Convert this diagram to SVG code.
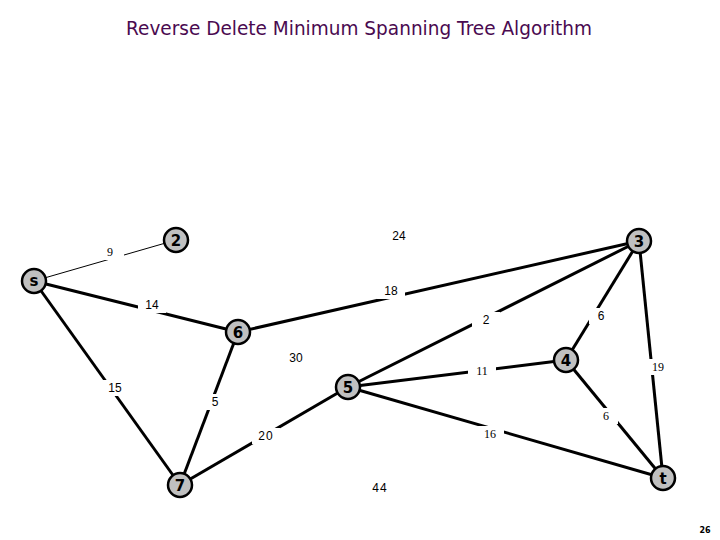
<svg xmlns="http://www.w3.org/2000/svg" width="720" height="540" viewBox="0 0 720 540">
<style>
.e{stroke:#000;stroke-width:3;stroke-linecap:butt}
.thin{stroke:#000;stroke-width:1}
.gap{fill:#fff}
.lbl{font-family:"Liberation Sans",Arial,sans-serif;font-size:12px;fill:#000;text-anchor:middle}
.ser{font-family:"Liberation Serif","Times New Roman",serif;font-size:12px;fill:#000;text-anchor:middle}
.n circle{fill:#c0c0c0;stroke:#000;stroke-width:2.5}
.n text{font-family:"DejaVu Sans",Verdana,sans-serif;font-weight:bold;font-size:15px;fill:#000;text-anchor:middle}
</style>
<rect width="720" height="540" fill="#fff"/>
<text x="359" y="35" font-family="'DejaVu Sans',Verdana,sans-serif" font-size="19" fill="#4a0a50" text-anchor="middle" textLength="466" lengthAdjust="spacingAndGlyphs">Reverse Delete Minimum Spanning Tree Algorithm</text>
<g id="connectors">
<line class="thin" x1="34" y1="281" x2="176" y2="240"/>
<line class="e" x1="34" y1="281" x2="238" y2="332"/>
<line class="e" x1="34" y1="281" x2="180" y2="485"/>
<line class="e" x1="238" y1="332" x2="639" y2="241"/>
<line class="e" x1="238" y1="332" x2="180" y2="485"/>
<line class="e" x1="348" y1="387" x2="639" y2="241"/>
<line class="e" x1="566" y1="360" x2="639" y2="241"/>
<line class="e" x1="348" y1="387" x2="566" y2="360"/>
<line class="e" x1="639" y1="241" x2="663" y2="478"/>
<line class="e" x1="566" y1="360" x2="663" y2="478"/>
<line class="e" x1="348" y1="387" x2="663" y2="478"/>
<line class="e" x1="348" y1="387" x2="180" y2="485"/>
<rect class="gap" x="96" y="244" width="28" height="16"/>
<rect class="gap" x="138" y="297" width="28" height="16"/>
<rect class="gap" x="377" y="283" width="28" height="16"/>
<rect class="gap" x="101" y="380" width="28" height="16"/>
<rect class="gap" x="202" y="394" width="26" height="16"/>
<rect class="gap" x="472" y="312" width="28" height="16"/>
<rect class="gap" x="589" y="308" width="24" height="16"/>
<rect class="gap" x="468" y="363" width="28" height="16"/>
<rect class="gap" x="645" y="359" width="26" height="16"/>
<rect class="gap" x="594" y="408" width="24" height="16"/>
<rect class="gap" x="476" y="426" width="28" height="16"/>
<rect class="gap" x="252" y="428" width="28" height="16"/>
<text class="ser" x="110" y="256">9</text>
<text class="lbl" x="152" y="309">14</text>
<text class="lbl" x="391" y="295">18</text>
<text class="lbl" x="399" y="240">24</text>
<text class="lbl" x="115" y="392">15</text>
<text class="lbl" x="215" y="406">5</text>
<text class="lbl" x="296" y="362">30</text>
<text class="lbl" x="486" y="324">2</text>
<text class="lbl" x="601" y="320">6</text>
<text class="ser" x="482" y="375">11</text>
<text class="ser" x="658" y="371">19</text>
<text class="ser" x="606" y="420">6</text>
<text class="ser" x="490" y="438">16</text>
<text class="lbl" x="266" y="440" letter-spacing="1">20</text>
<text class="lbl" x="380" y="492" letter-spacing="1">44</text>
</g>
<g id="node-s" class="n"><circle cx="34" cy="281" r="12"/><text x="34" y="286" font-size="12">s</text></g>
<g id="node-2" class="n"><circle cx="176" cy="240" r="12"/><text x="176" y="246">2</text></g>
<g id="node-3" class="n"><circle cx="639" cy="241" r="12"/><text x="639" y="247">3</text></g>
<g id="node-6" class="n"><circle cx="238" cy="332" r="12"/><text x="238" y="338">6</text></g>
<g id="node-4" class="n"><circle cx="566" cy="360" r="12"/><text x="566" y="366">4</text></g>
<g id="node-5" class="n"><circle cx="348" cy="387" r="12"/><text x="348" y="393">5</text></g>
<g id="node-7" class="n"><circle cx="180" cy="485" r="12"/><text x="180" y="491" font-weight="normal">7</text></g>
<g id="node-t" class="n"><circle cx="663" cy="478" r="12"/><text x="663" y="484" font-size="13">t</text></g>
<text x="705" y="533" font-family="'DejaVu Sans',sans-serif" font-size="8" font-weight="bold" text-anchor="middle">26</text>
</svg>
